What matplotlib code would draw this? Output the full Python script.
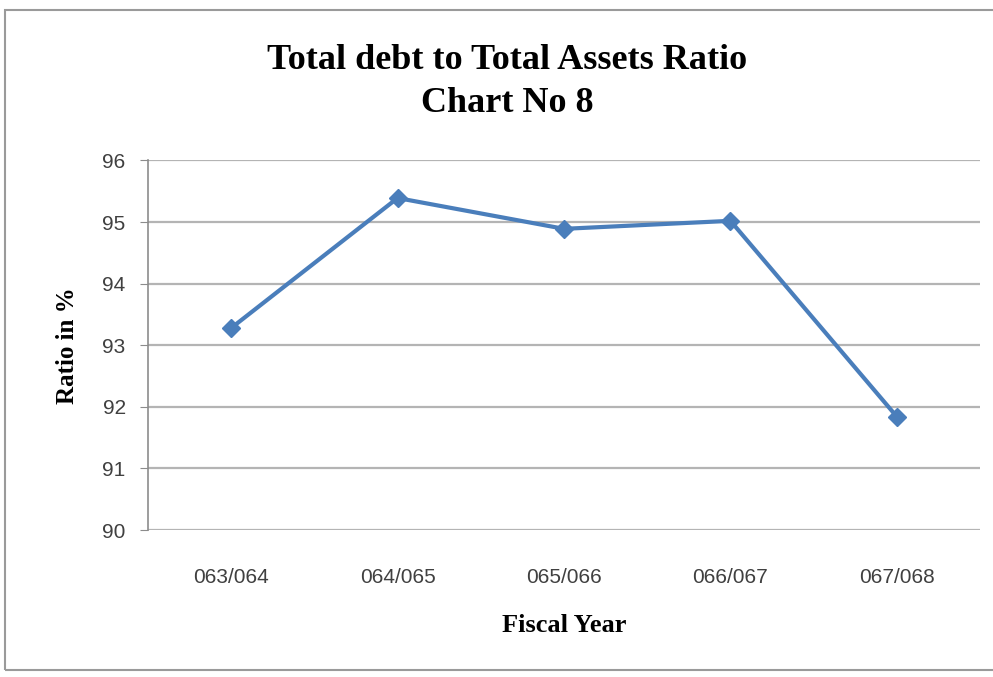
import matplotlib
matplotlib.use('Agg')
import matplotlib.pyplot as plt
from matplotlib.patches import Rectangle

# fiscal years and total debt / total assets ratio (%)
years = ['063/064', '064/065', '065/066', '066/067', '067/068']
ratio = [93.28, 95.39, 94.89, 95.02, 91.84]
y_ticks = [90, 91, 92, 93, 94, 95, 96]

fig = plt.figure(figsize=(9.93, 6.77), dpi=100)
fig.patch.set_facecolor('white')

# chart frame
fig.patches.append(Rectangle((0.005, 0.01), 1.2, 0.975, transform=fig.transFigure,
                             fill=False, edgecolor='#9a9a9a', linewidth=1.5))

ax = fig.add_axes([0.149, 0.217, 0.838, 0.546])
x = list(range(len(years)))
ax.plot(x, ratio, color='#4a7ebb', linewidth=3, marker='D', markersize=9,
        markerfacecolor='#4a7ebb', markeredgecolor='#4a7ebb', zorder=3)

ax.set_xlim(-0.5, len(years) - 0.5)
ax.set_ylim(90, 96)
ax.set_yticks(y_ticks)
ax.set_xticks(x)
ax.set_xticklabels(years)
ax.grid(axis='y', color='#b4b4b4', linewidth=1.6)
ax.set_axisbelow(True)

for side in ['top', 'right', 'bottom']:
    ax.spines[side].set_visible(False)
ax.spines['left'].set_color('#8c8c8c')
ax.spines['left'].set_linewidth(1.2)
ax.tick_params(axis='y', length=6, color='#8c8c8c', labelsize=15, labelcolor='#404040', pad=10)
ax.tick_params(axis='x', length=0, labelsize=15, labelcolor='#404040', pad=27)
for lbl in ax.get_xticklabels() + ax.get_yticklabels():
    lbl.set_fontfamily('Liberation Sans')

fig.text(0.511, 0.879, 'Total debt to Total Assets Ratio\nChart No 8', ha='center', va='center',
         fontsize=26, fontweight='bold', family='Liberation Serif', linespacing=1.38)
ax.set_xlabel('Fiscal Year', fontsize=19, fontweight='bold', family='Liberation Serif', labelpad=20)
ax.set_ylabel('Ratio in %', fontsize=18, fontweight='bold', family='Liberation Serif', labelpad=17)

fig.savefig('out.png', dpi=100, facecolor='white')
